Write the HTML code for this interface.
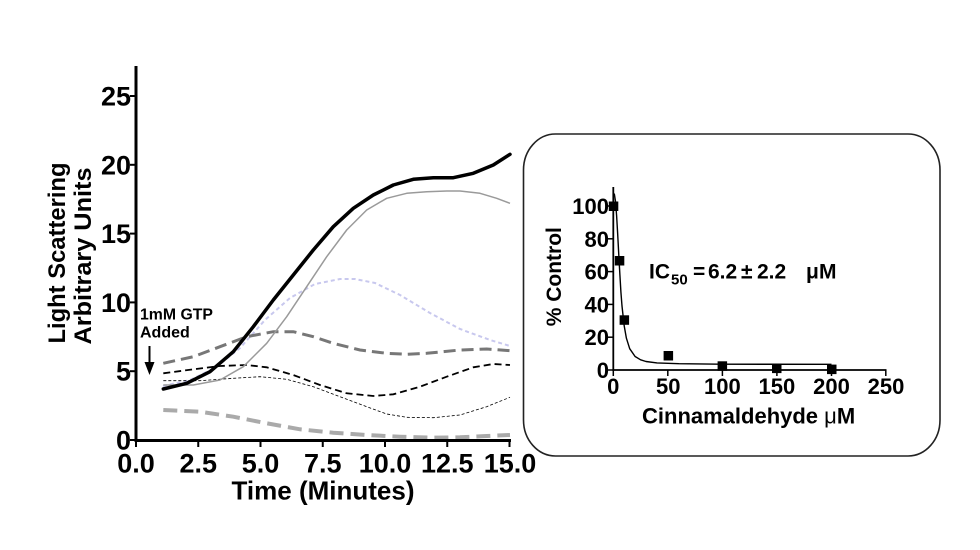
<!DOCTYPE html>
<html>
<head>
<meta charset="utf-8">
<style>
  html,body{margin:0;padding:0;background:#fff;}
  body{width:980px;height:550px;overflow:hidden;}
  svg{display:block;}
  text{font-family:"Liberation Sans",Arial,sans-serif;font-weight:bold;fill:#000;}
</style>
</head>
<body>
<svg width="980" height="550" viewBox="0 0 980 550" xmlns="http://www.w3.org/2000/svg">
  <rect x="0" y="0" width="980" height="550" fill="#fff"/>

  <!-- ===== Main chart ===== -->
  <polyline fill="none" stroke="#aaaaaa" stroke-width="4" stroke-dasharray="14 7"
    points="163.3,410 200,411.7 233.3,416.7 266.7,423.3 300,429.3 333.3,432.7 366.7,435 400,436.7 433.3,437.7 460,437.3 486.7,436 510,435"/>
  <polyline fill="none" stroke="#c8c8ee" stroke-width="2" stroke-dasharray="4 3"
    points="163,386 190,380 215,368 240,348 265,320 290,298 315,284 340,279 355,279 375,283 400,295 430,313 460,329 490,340 510,346"/>
  <polyline fill="none" stroke="#000" stroke-width="0.8" stroke-dasharray="3 2"
    points="163.3,380.7 200,380.7 233.3,378.3 260,376.7 286.7,379.3 313.3,386.7 340,396.7 366.7,406.7 386.7,414 406.7,417.3 433.3,417.7 460,415 486.7,406.7 510,397.3"/>
  <polyline fill="none" stroke="#000" stroke-width="1.8" stroke-dasharray="7 4"
    points="163.3,373.3 193.3,369.3 220,366 246.7,365 266.7,367.3 293.3,375 320,385 346.7,393.3 373.3,396 393.3,394.3 420,386.7 446.7,376.7 473.3,367.3 493.3,364 510,365"/>
  <polyline fill="none" stroke="#777777" stroke-width="3" stroke-dasharray="12 6"
    points="163.3,363.3 193.3,356.7 220,346.7 246.7,336.7 273.3,331.7 293.3,331.7 313.3,336.7 333.3,343.3 360,350 386.7,353.3 406.7,354.3 426.7,353.3 460,350 486.7,349 510,350.7"/>
  <polyline fill="none" stroke="#9a9a9a" stroke-width="1.5" stroke-linejoin="round"
    points="163.3,385 193.3,385 220,380 243.3,366.7 266.7,343.3 286.7,316.7 306.7,286.7 326.7,256.7 346.7,230 366.7,210 386.7,198.3 406.7,193.3 426.7,191.7 446.7,191 460,191 480,193.3 496.7,198.3 510,203.3"/>
  <polyline fill="none" stroke="#000" stroke-width="3.5" stroke-linejoin="round" stroke-linecap="round"
    points="163.3,389 186.7,383.3 210,371.7 233.3,351.7 253.3,326.7 273.3,300 293.3,275 313.3,250 333.3,226.7 353.3,208.3 373.3,195 393.3,185 413.3,179.3 433.3,177.7 453.3,177.7 473.3,173.3 493.3,165 510,154.3"/>

  <!-- axes -->
  <line x1="136" y1="66" x2="136" y2="442" stroke="#000" stroke-width="3"/>
  <line x1="134.5" y1="440.5" x2="511" y2="440.5" stroke="#000" stroke-width="3"/>
  <g stroke="#000" stroke-width="2">
    <line x1="130" y1="440" x2="136" y2="440"/>
    <line x1="130" y1="371.2" x2="136" y2="371.2"/>
    <line x1="130" y1="302.4" x2="136" y2="302.4"/>
    <line x1="130" y1="233.6" x2="136" y2="233.6"/>
    <line x1="130" y1="164.8" x2="136" y2="164.8"/>
    <line x1="130" y1="96" x2="136" y2="96"/>
  </g>
  <g font-size="27" text-anchor="end">
    <text x="131" y="449.5">0</text>
    <text x="131" y="380.7">5</text>
    <text x="131" y="311.9">10</text>
    <text x="131" y="243.1">15</text>
    <text x="131" y="174.3">20</text>
    <text x="131" y="105.5">25</text>
  </g>
  <g stroke="#000" stroke-width="2">
    <line x1="136" y1="440" x2="136" y2="447"/>
    <line x1="198.25" y1="440" x2="198.25" y2="447"/>
    <line x1="260.5" y1="440" x2="260.5" y2="447"/>
    <line x1="322.75" y1="440" x2="322.75" y2="447"/>
    <line x1="385" y1="440" x2="385" y2="447"/>
    <line x1="447.25" y1="440" x2="447.25" y2="447"/>
    <line x1="509.5" y1="440" x2="509.5" y2="447"/>
  </g>
  <g font-size="27" text-anchor="middle">
    <text x="136" y="472.5">0.0</text>
    <text x="198.25" y="472.5">2.5</text>
    <text x="260.5" y="472.5">5.0</text>
    <text x="322.75" y="472.5">7.5</text>
    <text x="385" y="472.5">10.0</text>
    <text x="447.25" y="472.5">12.5</text>
    <text x="510" y="472.5">15.0</text>
  </g>
  <text x="323" y="499.5" font-size="26" text-anchor="middle">Time (Minutes)</text>
  <text transform="translate(65,253) rotate(-90)" font-size="24" text-anchor="middle" textLength="181" lengthAdjust="spacingAndGlyphs">Light Scattering</text>
  <text transform="translate(91,256) rotate(-90)" font-size="24" text-anchor="middle" textLength="177" lengthAdjust="spacingAndGlyphs">Arbitrary Units</text>

  <!-- annotation -->
  <text x="140" y="319.5" font-size="16" textLength="73" lengthAdjust="spacingAndGlyphs">1mM GTP</text>
  <text x="140" y="337.5" font-size="16">Added</text>
  <line x1="149.5" y1="346" x2="149.5" y2="364" stroke="#000" stroke-width="2"/>
  <polygon points="144.5,362 154.5,362 149.5,375" fill="#000"/>

  <!-- ===== Inset panel ===== -->
  <rect x="523.5" y="134" width="416.5" height="322" rx="32" ry="36" fill="#fff" stroke="#222" stroke-width="1.6"/>

  <polyline fill="none" stroke="#000" stroke-width="1.4" stroke-linejoin="round"
    points="613.3,192.9 614.4,194.4 615.5,201.4 616.6,215.5 617.7,234.4 618.8,255.2 619.9,274.9 620.9,291.9 622,306 624.2,325.9 626.4,338.2 629.7,348.7 635.1,356.5 640.6,359.8 646,361.5 657,362.9 678.8,363.7 720,364.2 831.5,364.3"/>

  <line x1="613.3" y1="187" x2="613.3" y2="371" stroke="#000" stroke-width="1.8"/>
  <line x1="612.4" y1="370" x2="886.5" y2="370" stroke="#000" stroke-width="1.8"/>
  <g stroke="#000" stroke-width="1.5">
    <line x1="608" y1="370" x2="613.3" y2="370"/>
    <line x1="608" y1="337.2" x2="613.3" y2="337.2"/>
    <line x1="608" y1="304.4" x2="613.3" y2="304.4"/>
    <line x1="608" y1="271.6" x2="613.3" y2="271.6"/>
    <line x1="608" y1="238.8" x2="613.3" y2="238.8"/>
    <line x1="608" y1="206" x2="613.3" y2="206"/>
    <line x1="613.3" y1="370" x2="613.3" y2="376"/>
    <line x1="667.8" y1="370" x2="667.8" y2="376"/>
    <line x1="722.4" y1="370" x2="722.4" y2="376"/>
    <line x1="776.9" y1="370" x2="776.9" y2="376"/>
    <line x1="831.5" y1="370" x2="831.5" y2="376"/>
    <line x1="885.8" y1="370" x2="885.8" y2="376"/>
  </g>
  <g font-size="22" text-anchor="end">
    <text x="609" y="378">0</text>
    <text x="609" y="345.2">20</text>
    <text x="609" y="312.4">40</text>
    <text x="609" y="279.6">60</text>
    <text x="609" y="246.8">80</text>
    <text x="609" y="214">100</text>
  </g>
  <g font-size="22" text-anchor="middle">
    <text x="613.3" y="394">0</text>
    <text x="668.3" y="394">50</text>
    <text x="722.4" y="394">100</text>
    <text x="776.9" y="394">150</text>
    <text x="831.5" y="394">200</text>
    <text x="886" y="394">250</text>
  </g>

  <g fill="#000">
    <rect x="608.8" y="201.5" width="9.5" height="9.5"/>
    <rect x="614.8" y="256" width="9.5" height="9.5"/>
    <rect x="619.6" y="315.3" width="9.5" height="9.5"/>
    <rect x="663.6" y="351" width="9.5" height="9.5"/>
    <rect x="717.6" y="361.3" width="9.5" height="9.5"/>
    <rect x="772" y="363.6" width="9.5" height="9.5"/>
    <rect x="827" y="364.6" width="9.5" height="9.5"/>
  </g>

  <text x="642" y="423.5" font-size="22">Cinnamaldehyde <tspan font-weight="normal">μ</tspan>M</text>
  <text transform="translate(561,276.7) rotate(-90)" font-size="21" text-anchor="middle">% Control</text>

  <g font-size="21">
    <text x="649" y="278.5">IC</text>
    <text x="671" y="284.5" font-size="15">50</text>
    <text x="693" y="278.5">=</text>
    <text x="708" y="278.5">6.2</text>
    <text x="741" y="278.5" font-weight="normal">±</text>
    <text x="757" y="278.5">2.2</text>
    <text x="806" y="278.5" font-weight="normal">μ</text>
    <text x="819" y="278.5">M</text>
  </g>
</svg>
</body>
</html>
